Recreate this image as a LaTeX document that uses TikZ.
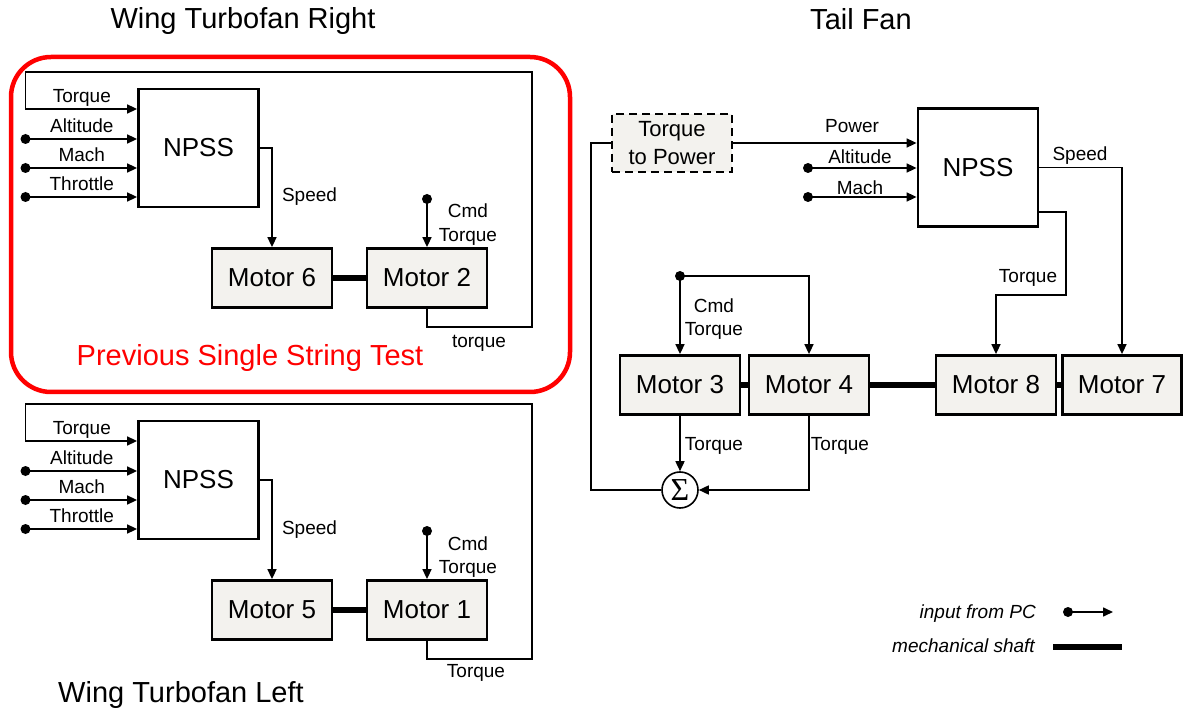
\documentclass[tikz,border=0pt]{standalone}
\usepackage{fontspec}
\setmainfont{Liberation Sans}
\newfontfamily\sigmafont{Liberation Serif}
\usetikzlibrary{arrows.meta}
\definecolor{motorfill}{RGB}{243,242,238}
\definecolor{testred}{RGB}{255,0,0}
\newcommand{\pxfont}[1]{\fontsize{#1pt}{#1pt}\selectfont}

\begin{document}
\begin{tikzpicture}[x=1pt, y=-1pt,
  box/.style={draw, line width=2.8pt, minimum width=120pt, inner sep=0pt},
  npss/.style={box, fill=white, minimum height=118pt, font=\pxfont{26}},
  motor/.style={box, fill=motorfill, minimum height=59pt, font=\pxfont{26}},
  lab/.style={inner sep=0pt, anchor=base, font=\pxfont{19}},
  heading/.style={inner sep=0pt, anchor=base, font=\pxfont{29}},
  wire/.style={line width=1.6pt},
  sig/.style={wire, -{Triangle[length=10pt,width=9pt]}},
  shaft/.style={line width=5.5pt}]
  \useasboundingbox (0,0) rectangle (1184,711);

  % wing turbofans, right on top and left below
  \foreach \dy/\ma/\mb/\fb/\fx/\fy in {0/6/2/torque/479/348, 332/5/1/Torque/476/677} {
    \node[npss] (npss\mb) at (198.5,148+\dy) {NPSS};
    \node[motor] (mot\ma) at (272,278+\dy) {Motor \ma};
    \node[motor] (mot\mb) at (427,278+\dy) {Motor \mb};
    \draw[shaft] (mot\ma) -- (mot\mb);

    \draw[sig] (npss\mb.east) -| (mot\ma.north);
    \node[lab] (speedlab\mb) at (309.5,202+\dy) {Speed};

    \coordinate (cmd\mb) at (427,199+\dy);
    \fill (cmd\mb) circle (5pt);
    \draw[sig] (cmd\mb) -- (mot\mb.north);
    \node[lab] (cmdlab\mb) at (468,218+\dy) {Cmd};
    \node[lab] (cmdtqlab\mb) at (468,241.5+\dy) {Torque};

    \draw[sig] (mot\mb.south) |- (532,327+\dy) |- (25.5,72+\dy) |- (npss\mb.west |- 0,109+\dy);
    \node[lab] (fblab\mb) at (81.8,102.5+\dy) {Torque};
    \node[lab] (tqlab\mb) at (\fx,\fy) {\fb};

    \foreach \yy/\nm/\lb in {139/alt/Altitude, 168/mach/Mach, 197/thr/Throttle} {
      \coordinate (\nm\mb) at (25.5,\yy+\dy);
      \fill (\nm\mb) circle (5pt);
      \draw[sig] (\nm\mb) -- (\nm\mb -| npss\mb.west);
      \node[lab] (\nm lab\mb) at (81.8,\yy-6.5+\dy) {\lb};
    }
  }

  \draw[testred, line width=4.5pt, rounded corners=40pt] (11,57) rectangle (570,392);
  \node[heading, testred] (testlab) at (250,366) {Previous Single String Test};
  \node[heading] (titleR) at (243,29) {Wing Turbofan Right};
  \node[heading] (titleL) at (181,702.5) {Wing Turbofan Left};
  \node[heading] (titleT) at (861,29.5) {Tail Fan};

  % tail fan
  \node[box, dashed, dash pattern=on 8pt off 5pt, fill=motorfill, minimum height=58pt,
        align=center, font={\fontsize{22pt}{28pt}\selectfont}] (t2p) at (672,143) {Torque\\to Power};
  \node[npss] (npssT) at (978,167.5) {NPSS};
  \node[motor] (mot3) at (680,385) {Motor 3};
  \node[motor] (mot4) at (809,385) {Motor 4};
  \node[motor] (mot8) at (996,385) {Motor 8};
  \node[motor, minimum width=119pt] (mot7) at (1122,385) {Motor 7};
  \draw[shaft] (mot3) -- (mot4);
  \draw[shaft] (mot4) -- (mot8);
  \draw[shaft] (mot8) -- (mot7);
  \node[draw, circle, line width=1.6pt, minimum size=36pt, inner sep=0pt,
        font=\sigmafont\pxfont{32}] (sum) at (680,490) {\symbol{"03A3}};

  \draw[sig] (t2p.east) -- (t2p.east -| npssT.west);
  \node[lab] (powerlab) at (852,132.5) {Power};
  \coordinate (altT) at (808,168);
  \coordinate (machT) at (808,197);
  \fill (altT) circle (5pt);
  \fill (machT) circle (5pt);
  \draw[sig] (altT) -- (altT -| npssT.west);
  \draw[sig] (machT) -- (machT -| npssT.west);
  \node[lab] (altlabT) at (860,164) {Altitude};
  \node[lab] (machlabT) at (860,194.5) {Mach};

  \draw[sig] (npssT.east) -| (mot7.north);
  \node[lab] (speedlabT) at (1080,161) {Speed};
  \draw[sig] (npssT.east |- 0,212) -| (1066,295) -| (mot8.north);
  \node[lab] (tqlab8) at (1028,283) {Torque};

  \coordinate (cmdT) at (680,276);
  \fill (cmdT) circle (5pt);
  \draw[sig] (cmdT) -- (mot3.north);
  \draw[sig] (cmdT) -| (mot4.north);
  \node[lab] (cmdlabT) at (714,312.5) {Cmd};
  \node[lab] (cmdtqlabT) at (714,335.5) {Torque};

  \draw[sig] (mot3.south) -- (sum.north);
  \draw[sig] (mot4.south) |- (sum.east);
  \node[lab] (tqlab3) at (714,450) {Torque};
  \node[lab] (tqlab4) at (840,450) {Torque};
  \draw[wire] (sum.west) -| (591,143) -- (t2p.west);

  % legend
  \node[lab, anchor=base east, font=\pxfont{19}\itshape] (pclab) at (1036,618.5) {input from PC};
  \coordinate (pcdot) at (1068,612);
  \coordinate (pcend) at (1113,612);
  \fill (pcdot) circle (5pt);
  \draw[sig] (pcdot) -- (pcend);
  \node[lab, anchor=base east, font=\pxfont{19}\itshape] (shaftlab) at (1035,652.5) {mechanical shaft};
  \coordinate (shaftA) at (1053,647);
  \coordinate (shaftB) at (1122,647);
  \draw[shaft] (shaftA) -- (shaftB);
\end{tikzpicture}
\end{document}
